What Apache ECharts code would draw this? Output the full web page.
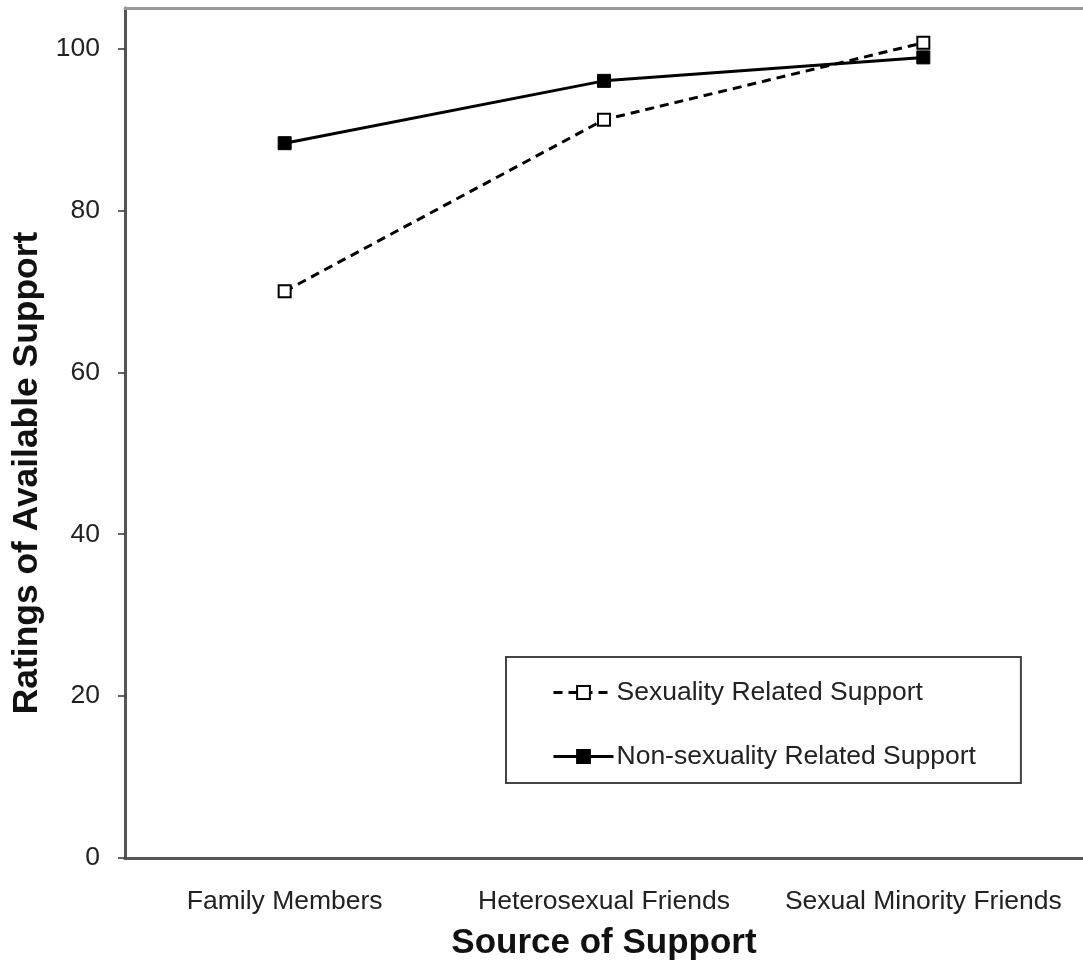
<!DOCTYPE html>
<html>
<head>
<meta charset="utf-8">
<script src="https://cdn.jsdelivr.net/npm/echarts@6/dist/echarts.min.js"></script>
<style>html,body{margin:0;padding:0;background:#fff}#c{width:1083px;height:965px}</style>
</head>
<body>
<div id="c"></div>
<script>
var categories = ['Family Members', 'Heterosexual Friends', 'Sexual Minority Friends'];
var sexualityRelated = [70.0, 91.2, 100.7];
var nonSexualityRelated = [88.3, 96.0, 98.9];
var yTicks = [0, 20, 40, 60, 80, 100];

var chart = echarts.init(document.getElementById('c'));
var font = 'Liberation Sans, Arial, sans-serif';
chart.setOption({
  animation: false,
  backgroundColor: '#fff',
  grid: { left: 125, right: 0, top: 8, bottom: 107, containLabel: false, outerBoundsMode: 'none' },
  legend: {
    orient: 'vertical',
    left: 506, top: 657,
    padding: [22, 45, 13, 46],
    itemGap: 37,
    itemWidth: 60, itemHeight: 16,
    borderColor: '#444', borderWidth: 2,
    lineStyle: { width: 3 },
    textStyle: { fontFamily: font, fontSize: 26.5, color: '#222', padding: [0, 0, 0, -2] },
    data: ['Sexuality Related Support', 'Non-sexuality Related Support']
  },
  xAxis: [{
    type: 'category',
    data: categories,
    boundaryGap: true,
    axisLine: { lineStyle: { color: '#555', width: 3 } },
    axisTick: { alignWithLabel: true, length: 7, lineStyle: { color: '#333', width: 1.5 } },
    axisLabel: { fontFamily: font, fontSize: 26.5, color: '#222', margin: 30, interval: 0, hideOverlap: false },
    name: 'Source of Support',
    nameLocation: 'middle',
    nameGap: 68,
    nameTextStyle: { fontFamily: font, fontSize: 35, fontWeight: 'bold', color: '#111' }
  }, {
    type: 'category',
    position: 'top',
    data: categories,
    axisLine: { show: true, lineStyle: { color: '#999', width: 3 } },
    axisTick: { show: false },
    axisLabel: { show: false }
  }],
  yAxis: {
    type: 'value',
    min: 0, max: 105,
    splitLine: { show: false },
    axisLine: { show: true, lineStyle: { color: '#555', width: 3 } },
    axisTick: { show: true, length: 7, customValues: yTicks, lineStyle: { color: '#333', width: 1.5 } },
    axisLabel: { fontFamily: font, fontSize: 26.5, color: '#222', margin: 25, customValues: yTicks },
    name: 'Ratings of Available Support',
    nameLocation: 'middle',
    nameGap: 69,
    nameTextStyle: { fontFamily: font, fontSize: 35.4, fontWeight: 'bold', color: '#111', padding: [0, 80, 0, 0] }
  },
  series: [{
    name: 'Sexuality Related Support',
    type: 'line',
    data: sexualityRelated,
    symbol: 'rect', symbolSize: 12,
    lineStyle: { color: '#000', width: 3, type: [9, 6] },
    itemStyle: { color: '#fff', borderColor: '#000', borderWidth: 2 }
  }, {
    name: 'Non-sexuality Related Support',
    type: 'line',
    data: nonSexualityRelated,
    symbol: 'rect', symbolSize: 13,
    lineStyle: { color: '#000', width: 3 },
    itemStyle: { color: '#000', borderColor: '#000', borderWidth: 1 }
  }]
});
</script>
</body>
</html>
